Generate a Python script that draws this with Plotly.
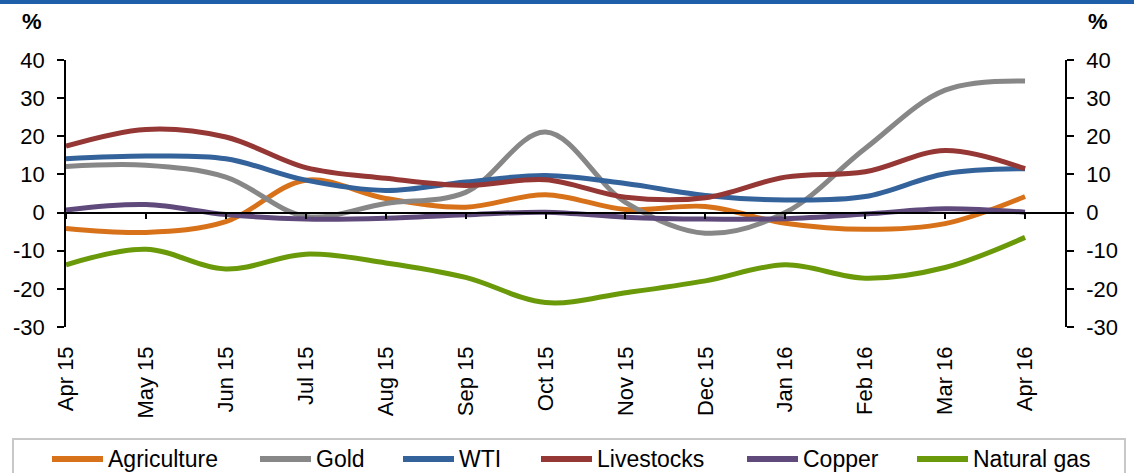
import plotly.graph_objects as go

# Monthly commodity returns, % (Apr 2015 - Apr 2016)
months = ["Apr 15", "May 15", "Jun 15", "Jul 15", "Aug 15", "Sep 15", "Oct 15",
          "Nov 15", "Dec 15", "Jan 16", "Feb 16", "Mar 16", "Apr 16"]

agriculture = [-4.2, -5.2, -2.4, 8.5, 3.7, 1.4, 4.7, 0.8, 1.6, -2.8, -4.4, -2.9, 4.2]
gold = [12.1, 12.4, 9.3, -1.0, 2.4, 5.3, 21.1, 2.7, -5.4, 0.0, 16.8, 32.1, 34.5]
wti = [14.1, 14.8, 14.1, 8.5, 5.8, 8.0, 9.7, 7.6, 4.5, 3.3, 4.2, 10.2, 11.5]
livestocks = [17.4, 21.8, 19.8, 11.8, 9.0, 7.1, 8.6, 4.0, 3.9, 9.3, 10.7, 16.3, 11.5]
copper = [0.7, 2.1, -0.5, -1.7, -1.5, -0.6, 0.1, -1.2, -1.7, -1.6, -0.4, 1.0, 0.1]
natural_gas = [-13.7, -9.6, -14.8, -10.9, -13.2, -17.0, -23.6, -21.0, -17.9, -13.7, -17.2, -14.4, -6.5]

y_ticks = [-30, -20, -10, 0, 10, 20, 30, 40]
y_tick_text = [str(v) for v in y_ticks]  # plain hyphen for negatives

series = [
    ("Agriculture", agriculture, "#D8721A"),
    ("Gold", gold, "#878787"),
    ("WTI", wti, "#34629A"),
    ("Livestocks", livestocks, "#953735"),
    ("Copper", copper, "#5F4A7B"),
    ("Natural gas", natural_gas, "#6A9A0A"),
]

# Legend entry start positions (px from the page's left edge)
legend_px = [50, 258, 401, 539, 745, 915]

FONT = "Arial, 'Liberation Sans', sans-serif"
W, H = 1134, 473
ML, MR, MT, MB = 66, 69, 60, 146
PW, PH = W - ML - MR, H - MT - MB


def px_x(px):
    return (px - ML) / PW


def px_y(py):
    return (H - MB - py) / PH


x_idx = list(range(len(months)))

fig = go.Figure()
for name, vals, color in series:
    fig.add_trace(go.Scatter(
        x=x_idx, y=vals, name=name, mode="lines",
        line=dict(color=color, width=5, shape="spline", smoothing=1.0),
        hoverinfo="skip", showlegend=False,
    ))

# Empty trace that brings the secondary axes (right scale, zero line) into being
fig.add_trace(go.Scatter(x=[None], y=[None], xaxis="x2", yaxis="y2",
                         mode="lines", showlegend=False, hoverinfo="skip"))

y_range = [-30, 40]
x_range = [0, len(months) - 0.5]

y_axis_common = dict(
    range=y_range, tickmode="array", tickvals=y_ticks, ticktext=y_tick_text,
    ticks="outside", ticklen=7, tickcolor="black", tickwidth=1.5,
    showline=True, linecolor="black", linewidth=1.5,
    showgrid=False, zeroline=False, ticklabelstandoff=8,
)

fig.update_layout(
    width=W, height=H,
    margin=dict(l=ML, r=MR, t=MT, b=MB, autoexpand=False),
    paper_bgcolor="white", plot_bgcolor="white",
    font=dict(family=FONT, size=22, color="black"),
    showlegend=False,
    xaxis=dict(
        range=x_range, tickmode="array", tickvals=x_idx, ticktext=months,
        tickangle=-90, ticks="", showline=False, showgrid=False, zeroline=False,
        ticklabelstandoff=14, tickfont=dict(size=22),
    ),
    xaxis2=dict(
        overlaying="x", anchor="free", position=30 / 70, range=x_range,
        tickmode="array", tickvals=x_idx, showticklabels=False,
        ticks="outside", ticklen=6, tickcolor="black", tickwidth=1.5,
        showline=True, linecolor="black", linewidth=1.5,
        showgrid=False, zeroline=False,
    ),
    yaxis=dict(**y_axis_common),
    yaxis2=dict(overlaying="y", side="right", anchor="x2", **y_axis_common),
)

# Axis unit labels
for xpx in (32, 1098):
    fig.add_annotation(
        x=px_x(xpx), y=px_y(21.5), xref="paper", yref="paper", text="<b>%</b>",
        showarrow=False, xanchor="center", yanchor="middle",
        font=dict(family=FONT, size=22, color="black"),
    )

# Header band across the top edge
fig.add_shape(type="rect", xref="paper", yref="paper",
              x0=px_x(-5), x1=px_x(W + 5), y0=px_y(4), y1=px_y(-5),
              fillcolor="#1F5FAA", line=dict(width=0), layer="above")

# Legend: frame, colour keys and labels
fig.add_shape(type="rect", xref="paper", yref="paper",
              x0=px_x(13), x1=px_x(1125), y0=px_y(439), y1=px_y(H + 20),
              fillcolor="rgba(0,0,0,0)", line=dict(color="#C8C8C8", width=2))
legend_y = px_y(459)
for (name, _, color), lx in zip(series, legend_px):
    fig.add_shape(type="line", xref="paper", yref="paper",
                  x0=px_x(lx + 2), x1=px_x(lx + 53), y0=legend_y, y1=legend_y,
                  line=dict(color=color, width=6))
    fig.add_annotation(
        x=px_x(lx + 56), y=legend_y, xref="paper", yref="paper", text=name,
        showarrow=False, xanchor="left", yanchor="middle",
        font=dict(family=FONT, size=23, color="black"),
    )

fig.write_html("out.html")
